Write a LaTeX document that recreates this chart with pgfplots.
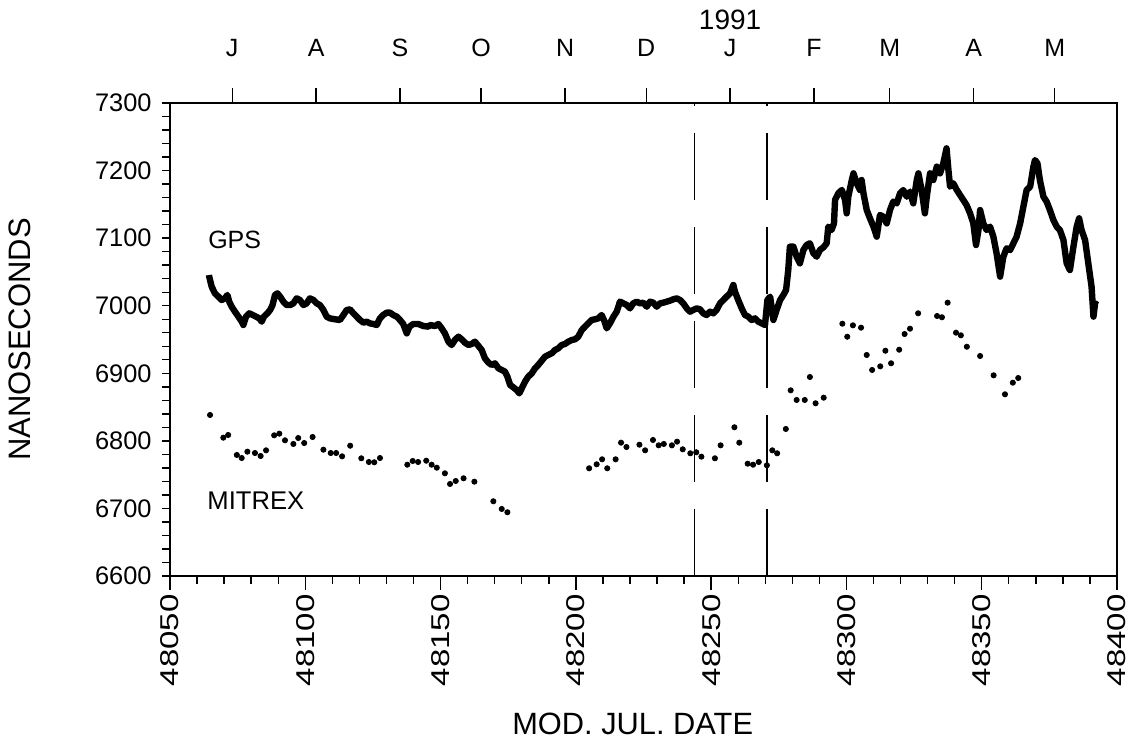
\documentclass[border=0pt]{standalone}
\usepackage{fontspec}
\setmainfont{Liberation Sans}
\usepackage{pgfplots}
\pgfplotsset{compat=1.18}

\begin{document}
\begin{tikzpicture}
\useasboundingbox (0,0) rectangle (564.5pt,377pt);

% month ticks along the top
\begin{axis}[
  at={(85pt,89pt)}, anchor=south west,
  width=473.5pt, height=236.5pt, scale only axis,
  xmin=48050, xmax=48400, ymin=6600, ymax=7300,
  scaled x ticks=false, scaled y ticks=false,
  axis y line=none, axis x line*=top,
  axis line style={draw=none},
  xtick={48073,48104,48135,48165,48196,48226,48257,48288,48316,48347,48377},
  xticklabels={J,A,S,O,N,D,J,F,M,A,M},
  tick align=outside, major tick length=7.5pt,
  tick style={line width=0.7pt, black},
  xticklabel style={font=\fontsize{12.5}{14}\selectfont, anchor=south, inner sep=0pt, yshift=15.5pt},
  clip=false,
]
\node[inner sep=0pt, font=\fontsize{14}{16}\selectfont] at (axis cs:48257,7300) [yshift=41.5pt] {1991};
\end{axis}

\begin{axis}[
  at={(85pt,89pt)}, anchor=south west,
  width=473.5pt, height=236.5pt, scale only axis,
  xmin=48050, xmax=48400, ymin=6600, ymax=7300,
  scaled x ticks=false, scaled y ticks=false,
  axis line style={line width=0.9pt},
  xtick={48050,48100,...,48400},
  xticklabels={48050,48100,48150,48200,48250,48300,48350,48400},
  minor x tick num=4,
  ytick={6600,6700,...,7300},
  yticklabels={6600,6700,6800,6900,7000,7100,7200,7300},
  major y tick style={draw=none},
  minor ytick={6600,6620,...,7300},
  tick align=outside, xtick pos=left, ytick pos=left,
  major tick length=7pt, minor tick length=3.8pt,
  tick style={line width=0.7pt, black},
  xticklabel style={font=\fontsize{16.5}{18}\selectfont, yshift=-2pt, rotate=90, yscale=0.78, anchor=east, inner sep=0pt},
  yticklabel style={font=\fontsize{12.7}{15}\selectfont, anchor=east, inner sep=0pt, xshift=-2pt},
  clip=false,
]
% GPS
\addplot[black, line width=3.2pt, line join=round] coordinates {
(48064.4,7045.4)(48064.5,7043.0)(48065.4,7028.2)(48066.6,7018.3)(48067.9,7013.4)
(48069.1,7008.5)(48070.3,7010.9)(48071.2,7015.9)(48071.9,7006.0)(48072.8,6998.6)
(48074.0,6991.2)(48075.3,6983.8)(48076.5,6976.4)(48077.1,6971.5)(48078.1,6983.8)
(48079.3,6988.7)(48080.6,6986.3)(48081.8,6983.8)(48083.0,6981.3)(48083.9,6976.4)
(48084.7,6983.8)(48086.0,6988.7)(48087.0,6993.7)(48087.9,7001.0)(48088.8,7015.9)
(48089.7,7018.3)(48090.7,7013.4)(48091.9,7006.0)(48093.1,7001.0)(48094.4,7001.0)
(48095.6,7003.5)(48096.8,7010.9)(48098.0,7008.5)(48099.3,7001.0)(48100.5,7003.5)
(48101.7,7010.9)(48103.0,7008.5)(48104.2,7003.5)(48105.4,7001.0)(48106.7,6993.7)
(48107.9,6983.8)(48109.1,6981.3)(48111.0,6979.9)(48112.8,6978.9)(48114.1,6986.3)
(48115.3,6993.7)(48116.5,6994.6)(48117.8,6988.7)(48119.0,6983.8)(48120.2,6978.9)
(48121.5,6974.9)(48122.7,6976.4)(48123.9,6973.9)(48125.2,6972.9)(48126.4,6971.5)
(48127.6,6981.3)(48128.8,6986.3)(48130.1,6989.7)(48131.3,6989.7)(48132.5,6986.3)
(48133.8,6983.8)(48135.0,6978.9)(48136.2,6972.9)(48137.5,6959.1)(48138.5,6969.0)
(48139.9,6972.9)(48141.8,6972.9)(48143.6,6970.0)(48145.5,6969.0)
(48146.1,6971.5)(48147.9,6970.0)(48149.2,6972.9)(48150.4,6966.5)(48151.6,6959.1)
(48152.9,6946.8)(48154.1,6941.9)(48155.3,6949.3)(48156.6,6954.2)(48157.8,6950.3)
(48159.0,6945.3)(48160.3,6941.9)(48161.5,6943.4)(48162.7,6946.8)(48164.0,6940.4)
(48165.2,6934.5)(48166.4,6922.1)(48167.7,6915.7)(48168.9,6912.3)(48170.1,6914.7)
(48171.4,6907.3)(48172.6,6904.9)(48173.8,6902.4)(48174.7,6895.0)(48175.7,6882.7)
(48176.9,6879.2)(48178.1,6875.3)(48179.1,6870.3)(48180.0,6877.7)(48181.2,6887.6)
(48182.4,6895.0)(48183.7,6899.9)(48184.9,6907.3)(48186.1,6912.3)(48187.4,6918.7)
(48188.6,6924.6)(48189.8,6927.1)(48191.1,6929.6)(48192.3,6934.5)(48193.5,6936.9)
(48194.8,6941.9)(48196.0,6943.4)(48197.2,6946.8)(48198.5,6949.3)(48199.7,6950.3)
(48200.9,6954.2)(48202.2,6964.1)(48203.4,6969.0)(48204.6,6973.9)(48205.8,6978.9)
(48207.1,6979.9)(48208.3,6981.3)(48209.5,6986.3)(48210.4,6978.9)(48211.4,6966.5)
(48212.6,6973.9)(48213.9,6983.8)(48215.1,6991.2)(48216.3,7006.0)(48217.6,7003.5)
(48218.8,7001.1)(48220.0,6996.1)(48221.2,7003.5)(48222.5,7006.0)(48223.7,7003.5)
(48224.9,7004.5)(48226.2,6998.6)(48227.4,7006.0)(48228.6,7004.5)(48229.9,6998.6)
(48231.1,7003.5)(48232.3,7004.5)(48233.6,7006.0)(48234.8,7007.5)(48236.0,7009.5)
(48237.3,7010.9)
(48238.5,7008.5)(48239.7,7003.5)(48241.0,6996.1)(48242.2,6991.2)(48243.4,6993.7)
(48244.7,6996.1)(48245.9,6994.6)(48247.1,6988.7)(48248.3,6986.3)(48249.6,6991.2)
(48250.8,6988.7)(48252.0,6993.7)(48253.3,7003.5)(48254.5,7008.5)(48255.7,7013.4)
(48257.0,7018.4)(48258.2,7030.7)(48258.8,7020.8)(48260.0,7008.5)(48261.3,6996.1)
(48262.5,6986.3)(48263.7,6983.8)(48265.0,6978.9)(48266.2,6981.3)(48267.4,6976.4)
(48268.7,6973.9)(48269.9,6971.5)(48270.8,7008.5)(48271.8,7013.4)(48273.0,6978.9)
(48274.2,6993.7)(48275.5,7008.5)(48276.7,7015.9)(48277.7,7023.3)(48278.5,7052.8)
(48279.1,7087.4)(48280.4,7087.4)(48281.6,7072.6)(48282.8,7062.7)(48284.1,7082.5)
(48285.3,7089.9)(48286.5,7092.3)(48287.8,7077.5)(48289.0,7072.6)(48290.2,7082.5)
(48291.5,7086.4)(48292.7,7092.3)(48293.3,7117.0)(48294.5,7112.1)(48295.4,7121.9)
(48295.8,7156.5)(48297.0,7166.3)(48298.3,7171.3)(48299.5,7156.5)(48300.1,7136.7)
(48300.7,7161.4)(48302.0,7186.1)(48302.6,7195.9)(48303.8,7181.1)(48305.0,7171.3)
(48305.6,7186.1)(48306.3,7166.3)(48307.5,7141.7)(48308.7,7129.3)(48310.0,7117.0)
(48311.2,7102.2)
(48312.4,7134.2)(48313.6,7131.8)(48314.9,7121.9)(48316.1,7141.6)(48317.3,7154.0)
(48318.6,7151.5)(48319.8,7166.3)(48321.0,7171.2)(48322.3,7161.4)(48323.5,7168.8)
(48324.7,7151.5)(48326.0,7186.0)(48326.6,7195.9)(48327.8,7171.2)(48329.0,7136.7)
(48329.7,7161.4)(48330.9,7195.9)(48332.1,7186.0)(48333.4,7205.8)(48334.6,7195.9)
(48335.8,7210.7)(48337.0,7232.9)(48337.7,7200.8)(48338.3,7176.2)(48339.5,7181.1)
(48340.8,7171.2)(48342.0,7163.8)(48343.2,7156.4)(48344.4,7149.0)(48345.7,7136.7)
(48346.9,7121.9)(48347.9,7089.8)(48348.8,7112.0)(48349.4,7141.6)(48350.6,7121.9)
(48351.8,7112.0)(48353.1,7117.0)(48354.3,7102.2)(48355.5,7077.5)(48356.8,7043.0)
(48358.0,7072.6)(48359.2,7084.9)(48360.5,7082.4)(48361.7,7092.3)(48362.9,7102.2)
(48364.2,7121.9)(48365.4,7146.6)(48366.6,7171.2)(48367.9,7176.2)(48369.1,7205.8)
(48369.7,7215.6)(48370.6,7210.7)(48371.5,7186.0)(48372.8,7161.4)(48374.0,7154.0)
(48375.2,7141.6)(48376.5,7126.8)(48377.7,7117.0)(48378.9,7112.0)(48380.2,7097.2)
(48381.4,7062.7)(48382.6,7052.8)(48383.9,7087.4)(48385.1,7117.0)(48386.0,7129.3)
(48386.9,7112.0)(48388.2,7097.2)(48389.4,7062.7)(48390.6,7028.2)(48391.3,6983.8)
(48391.9,7003.5)(48392.7,7001.1)
};
% MITREX
\addplot[black, only marks, mark=*, mark size=1.3pt] coordinates {
(48064.8,6838.3)(48069.7,6804.7)(48071.5,6808.7)(48074.7,6779.1)(48076.5,6774.6)
(48078.6,6784.0)(48081.4,6782.0)(48083.5,6777.6)(48085.5,6786.0)(48088.5,6808.2)
(48090.4,6810.6)(48092.5,6800.8)(48095.6,6795.4)(48097.4,6804.2)(48099.6,6796.8)
(48102.7,6805.7)(48106.7,6786.9)(48109.4,6782.0)(48111.4,6782.0)(48113.6,6777.1)
(48116.6,6792.8)(48120.7,6774.2)(48123.5,6768.7)(48125.5,6768.3)(48127.6,6774.6)
(48137.7,6764.7)(48139.7,6770.2)(48141.7,6768.7)(48144.7,6770.6)(48146.7,6764.7)
(48148.6,6760.3)(48151.6,6752.0)(48153.5,6736.2)(48155.6,6740.6)(48158.5,6744.6)
(48162.5,6739.6)(48169.5,6710.6)(48172.6,6699.2)(48174.7,6694.3)
(48204.9,6759.4)(48207.7,6765.3)(48209.7,6772.7)(48211.6,6759.4)(48214.7,6772.7)
(48216.7,6797.3)(48218.7,6790.9)(48223.5,6794.3)(48225.6,6786.0)(48228.5,6801.3)
(48230.6,6793.4)(48232.5,6795.4)(48235.5,6793.4)(48237.4,6798.8)(48239.5,6787.5)
(48242.3,6781.6)(48244.5,6783.1)(48246.4,6776.6)(48251.4,6774.2)(48253.5,6793.4)
(48258.6,6820.1)(48260.4,6797.3)(48263.5,6766.2)(48265.5,6764.7)(48267.6,6768.7)
(48270.6,6763.8)(48272.6,6786.0)(48274.4,6781.6)(48277.6,6817.6)(48279.4,6874.8)
(48281.6,6860.5)(48284.6,6860.5)(48286.5,6894.5)(48288.6,6855.6)(48291.6,6863.9)
(48298.5,6973.4)(48300.3,6954.1)(48302.4,6971.0)(48305.4,6967.5)(48307.5,6927.1)
(48309.5,6904.9)(48312.5,6910.3)(48314.4,6933.4)(48316.5,6914.8)(48319.5,6934.9)
(48321.5,6958.1)(48323.5,6966.0)(48326.5,6988.8)(48333.5,6984.8)(48335.3,6982.9)
(48337.4,7004.5)(48340.5,6960.1)(48342.3,6956.2)(48344.5,6939.3)(48349.4,6925.6)
(48354.4,6897.0)(48358.6,6868.9)(48361.5,6886.1)(48363.5,6893.0)
};
% dashed verticals
\draw[black, line width=0.7pt, dash pattern=on 33.5pt off 13.5pt] (axis cs:48243.9,6600) -- (axis cs:48243.9,7300);
\draw[black, line width=0.7pt, dash pattern=on 33.5pt off 13.5pt] (axis cs:48270.6,6600) -- (axis cs:48270.6,7300);

\node[anchor=west, inner sep=0pt, font=\fontsize{12.5}{14}\selectfont] at (axis cs:48064.0,7097.3) {GPS};
\node[anchor=west, inner sep=0pt, font=\fontsize{12.8}{14}\selectfont] at (axis cs:48063.7,6711.7) {MITREX};
\node[font=\fontsize{15.4}{17}\selectfont] at ([yshift=-74pt]axis cs:48221,6600) {MOD. JUL. DATE};
\node[font=\fontsize{15.5}{17}\selectfont, rotate=90] at ([xshift=-75pt]rel axis cs:0,0.5) {NANOSECONDS};
\end{axis}
\end{tikzpicture}
\end{document}
